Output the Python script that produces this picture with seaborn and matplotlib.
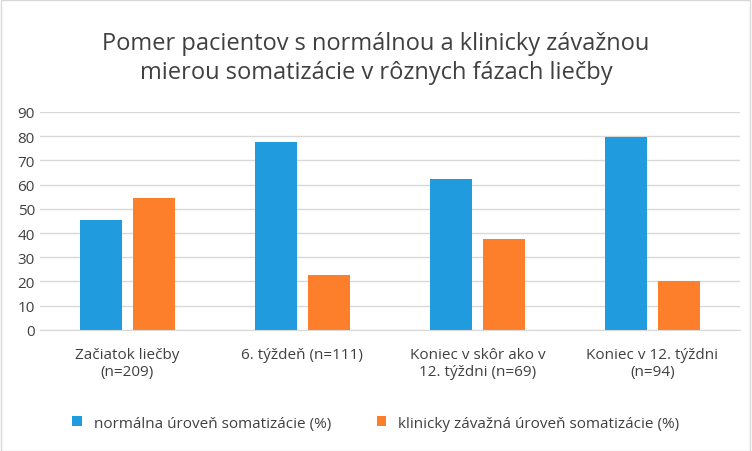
import pandas as pd
import seaborn as sns
import matplotlib.pyplot as plt
from matplotlib.patches import Rectangle

categories = ['Začiatok liečby\n(n=209)', '6. týždeň (n=111)',
              'Koniec v skôr ako v\n12. týždni (n=69)', 'Koniec v 12. týždni\n(n=94)']
series = ['normálna úroveň somatizácie (%)', 'klinicky závažná úroveň somatizácie (%)']
normal = [45.5, 77.5, 62.3, 79.8]
severe = [54.5, 22.5, 37.7, 20.2]

df = pd.DataFrame({
    'cat': categories * 2,
    'series': [series[0]] * 4 + [series[1]] * 4,
    'val': normal + severe,
})

plt.rcParams['font.family'] = 'Open Sans'
fig = plt.figure(figsize=(7.52, 4.52), dpi=100)
ax = fig.add_axes([0.053, 0.268, 0.931, 0.482])
fig.patches.append(Rectangle((0.001, 0.001), 0.997, 0.997, transform=fig.transFigure,
                             fill=False, edgecolor='#d9d9d9', linewidth=1))

sns.barplot(data=df, x='cat', y='val', hue='series', order=categories,
            palette=['#1f9bde', '#fd7f2c'], width=0.606, gap=0.21,
            saturation=1, ax=ax, legend=True)

ax.set_ylim(0, 90)
ax.set_yticks(range(0, 91, 10))
ax.yaxis.grid(True, color='#d9d9d9', linewidth=1)
ax.set_axisbelow(True)
for s in ['top', 'right', 'left']:
    ax.spines[s].set_visible(False)
ax.spines['bottom'].set_color('#d9d9d9')
ax.tick_params(length=0, labelsize=11, colors='#404040')
ax.tick_params(axis='x', pad=12)
ax.set_xlabel('')
ax.set_ylabel('')

ax.legend(loc='upper center', bbox_to_anchor=(0.48, -0.33), ncol=2, frameon=False,
          fontsize=11, handlelength=0.6, handleheight=0.6, columnspacing=3,
          labelcolor='#404040')

fig.text(0.5, 0.87, 'Pomer pacientov s normálnou a klinicky závažnou\nmierou somatizácie v rôznych fázach liečby',
         ha='center', va='center', fontsize=17, color='#404040', linespacing=1.3)

fig.savefig('out.png', dpi=100)
